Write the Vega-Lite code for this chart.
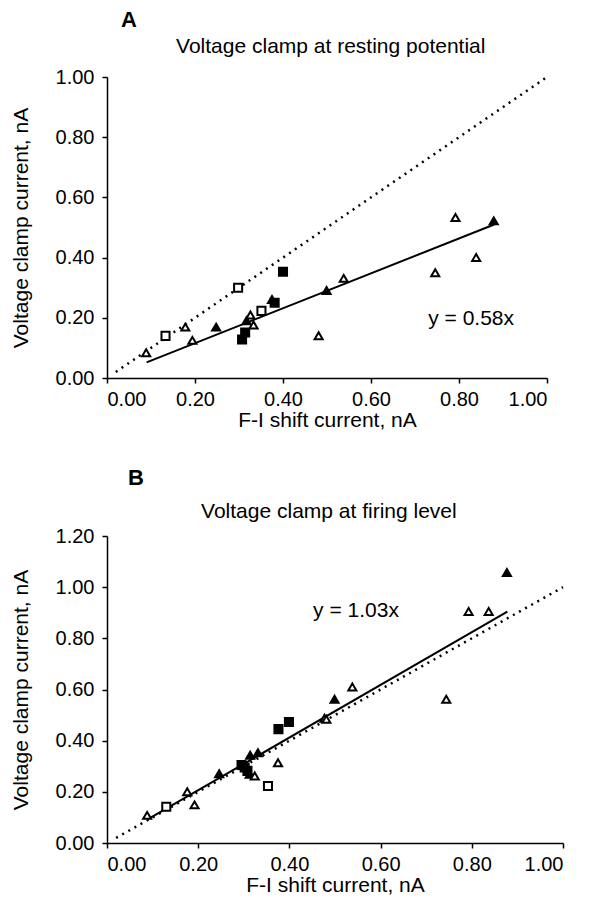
{
  "$schema": "https://vega.github.io/schema/vega-lite/v6.json",
  "background": "white",
  "padding": {"left": 10, "top": 9, "right": 4, "bottom": 2},
  "config": {
    "font": "Liberation Sans",
    "view": {"stroke": null},
    "axis": {
      "grid": false,
      "domainColor": "black", "domainWidth": 1.5,
      "tickColor": "black", "tickWidth": 1.5, "tickSize": 5,
      "labelFont": "Liberation Sans", "labelFontSize": 20, "labelColor": "black",
      "titleFont": "Liberation Sans", "titleFontSize": 21, "titleFontWeight": "normal", "titleColor": "black"
    },
    "axisY": {"labelPadding": 8, "titlePadding": 24},
    "axisX": {"labelPadding": 6, "titlePadding": 0},
    "title": {"font": "Liberation Sans", "fontSize": 21, "fontWeight": "normal", "color": "black"}
  },
  "datasets": {
    "a_pts": [
      {"x": 0.089, "y": 0.084, "marker": "triangle", "fill": "open"},
      {"x": 0.133, "y": 0.140, "marker": "square", "fill": "open"},
      {"x": 0.178, "y": 0.169, "marker": "triangle", "fill": "open"},
      {"x": 0.194, "y": 0.125, "marker": "triangle", "fill": "open"},
      {"x": 0.248, "y": 0.169, "marker": "triangle", "fill": "filled"},
      {"x": 0.298, "y": 0.300, "marker": "square", "fill": "open"},
      {"x": 0.307, "y": 0.128, "marker": "square", "fill": "filled"},
      {"x": 0.314, "y": 0.151, "marker": "square", "fill": "filled"},
      {"x": 0.317, "y": 0.190, "marker": "triangle", "fill": "filled"},
      {"x": 0.326, "y": 0.209, "marker": "triangle", "fill": "open"},
      {"x": 0.333, "y": 0.176, "marker": "triangle", "fill": "open"},
      {"x": 0.351, "y": 0.223, "marker": "square", "fill": "open"},
      {"x": 0.375, "y": 0.261, "marker": "triangle", "fill": "filled"},
      {"x": 0.381, "y": 0.250, "marker": "square", "fill": "filled"},
      {"x": 0.400, "y": 0.353, "marker": "square", "fill": "filled"},
      {"x": 0.481, "y": 0.140, "marker": "triangle", "fill": "open"},
      {"x": 0.499, "y": 0.291, "marker": "triangle", "fill": "filled"},
      {"x": 0.538, "y": 0.331, "marker": "triangle", "fill": "open"},
      {"x": 0.746, "y": 0.350, "marker": "triangle", "fill": "open"},
      {"x": 0.792, "y": 0.533, "marker": "triangle", "fill": "open"},
      {"x": 0.839, "y": 0.400, "marker": "triangle", "fill": "open"},
      {"x": 0.879, "y": 0.522, "marker": "triangle", "fill": "filled"}
    ],
    "a_reg": [{"x": 0.09, "y": 0.052}, {"x": 0.88, "y": 0.51}],
    "a_id": [{"x": 0.02, "y": 0.02}, {"x": 1.0, "y": 1.0}],
    "a_eq": [{"x": 0.73, "y": 0.195, "label": "y = 0.58x"}],
    "b_pts": [
      {"x": 0.088, "y": 0.108, "marker": "triangle", "fill": "open"},
      {"x": 0.130, "y": 0.142, "marker": "square", "fill": "open"},
      {"x": 0.176, "y": 0.200, "marker": "triangle", "fill": "open"},
      {"x": 0.192, "y": 0.149, "marker": "triangle", "fill": "open"},
      {"x": 0.246, "y": 0.271, "marker": "triangle", "fill": "filled"},
      {"x": 0.295, "y": 0.305, "marker": "square", "fill": "filled"},
      {"x": 0.302, "y": 0.295, "marker": "square", "fill": "filled"},
      {"x": 0.308, "y": 0.282, "marker": "square", "fill": "filled"},
      {"x": 0.313, "y": 0.269, "marker": "triangle", "fill": "filled"},
      {"x": 0.314, "y": 0.343, "marker": "triangle", "fill": "filled"},
      {"x": 0.331, "y": 0.353, "marker": "triangle", "fill": "filled"},
      {"x": 0.324, "y": 0.262, "marker": "triangle", "fill": "open"},
      {"x": 0.353, "y": 0.223, "marker": "square", "fill": "open"},
      {"x": 0.375, "y": 0.314, "marker": "triangle", "fill": "open"},
      {"x": 0.376, "y": 0.445, "marker": "square", "fill": "filled"},
      {"x": 0.399, "y": 0.473, "marker": "square", "fill": "filled"},
      {"x": 0.477, "y": 0.488, "marker": "triangle", "fill": "open"},
      {"x": 0.481, "y": 0.484, "marker": "triangle", "fill": "open"},
      {"x": 0.499, "y": 0.562, "marker": "triangle", "fill": "filled"},
      {"x": 0.538, "y": 0.610, "marker": "triangle", "fill": "open"},
      {"x": 0.744, "y": 0.562, "marker": "triangle", "fill": "open"},
      {"x": 0.793, "y": 0.905, "marker": "triangle", "fill": "open"},
      {"x": 0.837, "y": 0.905, "marker": "triangle", "fill": "open"},
      {"x": 0.877, "y": 1.057, "marker": "triangle", "fill": "filled"}
    ],
    "b_reg": [{"x": 0.088, "y": 0.091}, {"x": 0.878, "y": 0.904}],
    "b_id": [{"x": 0.02, "y": 0.02}, {"x": 1.0, "y": 1.0}],
    "b_eq": [{"x": 0.452, "y": 0.905, "label": "y = 1.03x"}]
  },
  "spacing": 37,
  "vconcat": [
    {
      "title": {"text": "A", "anchor": "start", "fontWeight": "bold", "fontSize": 22, "dx": 111, "offset": 4},
      "vconcat": [
        {
          "width": 440, "height": 301,
          "title": {"text": "Voltage clamp at resting potential", "anchor": "start", "dx": 166, "offset": 10},
          "encoding": {
            "x": {"field": "x", "type": "quantitative", "scale": {"domain": [0, 1]},
                  "axis": {"title": "F-I shift current, nA", "values": [0, 0.2, 0.4, 0.6, 0.8, 1.0], "format": ".2f"}},
            "y": {"field": "y", "type": "quantitative", "scale": {"domain": [0, 1]},
                  "axis": {"title": "Voltage clamp current, nA", "values": [0, 0.2, 0.4, 0.6, 0.8, 1.0], "format": ".2f"}}
          },
          "layer": [
            {"data": {"name": "a_id"}, "mark": {"type": "line", "color": "black", "strokeWidth": 2.5, "strokeDash": [2, 5]}},
            {"data": {"name": "a_reg"}, "mark": {"type": "line", "color": "black", "strokeWidth": 2}},
            {"data": {"name": "a_pts"}, "mark": {"type": "point", "filled": true, "stroke": "black", "strokeWidth": 2, "opacity": 1, "size": 65},
             "encoding": {
               "shape": {"field": "marker", "type": "nominal", "scale": {"domain": ["triangle", "square"], "range": ["triangle-up", "square"]}, "legend": null},
               "fill": {"field": "fill", "type": "nominal", "scale": {"domain": ["open", "filled"], "range": ["white", "black"]}, "legend": null}
             }},
            {"data": {"name": "a_eq"}, "mark": {"type": "text", "align": "left", "baseline": "middle", "fontSize": 21, "font": "Liberation Sans", "color": "black"},
             "encoding": {"text": {"field": "label"}}}
          ]
        }
      ]
    },
    {
      "title": {"text": "B", "anchor": "start", "fontWeight": "bold", "fontSize": 22, "dx": 118, "offset": 11},
      "vconcat": [
        {
          "width": 456, "height": 307,
          "title": {"text": "Voltage clamp at firing level", "anchor": "start", "dx": 191, "offset": 4},
          "encoding": {
            "x": {"field": "x", "type": "quantitative", "scale": {"domain": [0, 1]},
                  "axis": {"title": "F-I shift current, nA", "values": [0, 0.2, 0.4, 0.6, 0.8, 1.0], "format": ".2f"}},
            "y": {"field": "y", "type": "quantitative", "scale": {"domain": [0, 1.2]},
                  "axis": {"title": "Voltage clamp current, nA", "values": [0, 0.2, 0.4, 0.6, 0.8, 1.0, 1.2], "format": ".2f"}}
          },
          "layer": [
            {"data": {"name": "b_id"}, "mark": {"type": "line", "color": "black", "strokeWidth": 2.5, "strokeDash": [2, 5]}},
            {"data": {"name": "b_reg"}, "mark": {"type": "line", "color": "black", "strokeWidth": 2}},
            {"data": {"name": "b_pts"}, "mark": {"type": "point", "filled": true, "stroke": "black", "strokeWidth": 2, "opacity": 1, "size": 65},
             "encoding": {
               "shape": {"field": "marker", "type": "nominal", "scale": {"domain": ["triangle", "square"], "range": ["triangle-up", "square"]}, "legend": null},
               "fill": {"field": "fill", "type": "nominal", "scale": {"domain": ["open", "filled"], "range": ["white", "black"]}, "legend": null}
             }},
            {"data": {"name": "b_eq"}, "mark": {"type": "text", "align": "left", "baseline": "middle", "fontSize": 21, "font": "Liberation Sans", "color": "black"},
             "encoding": {"text": {"field": "label"}}}
          ]
        }
      ]
    }
  ]
}
